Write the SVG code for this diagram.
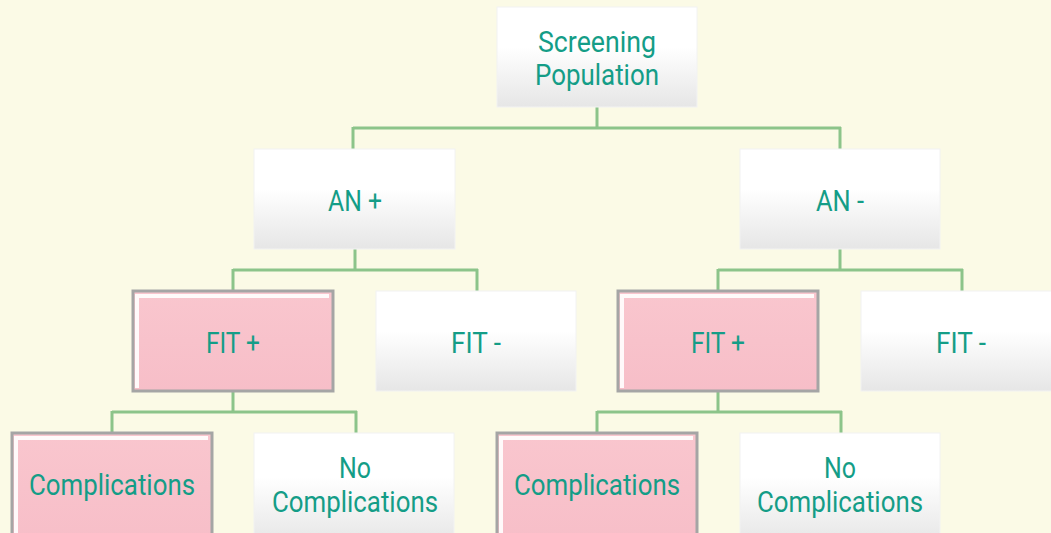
<svg xmlns="http://www.w3.org/2000/svg" width="1051" height="533" viewBox="0 0 1051 533">
<defs>
<linearGradient id="wg" x1="0" y1="0" x2="0" y2="1">
<stop offset="0" stop-color="#ffffff"/>
<stop offset="0.4" stop-color="#ffffff"/>
<stop offset="1" stop-color="#e6e6e6"/>
</linearGradient>
<linearGradient id="pg" x1="0" y1="0" x2="0" y2="1">
<stop offset="0" stop-color="#f9c6ce"/>
<stop offset="1" stop-color="#f7bec8"/>
</linearGradient>
<style>
.w{fill:url(#wg);stroke:#f2f2f2;stroke-width:1}
.p{fill:url(#pg);stroke:#a5a5a5;stroke-width:3}
.hl{fill:none;stroke:#ffffff;stroke-width:4;stroke-opacity:0.9}
.t{font-family:Roboto,"Noto Sans",sans-serif;font-size:30px;font-weight:400;fill:#149d87;text-anchor:middle}
.c{fill:none;stroke:#8cc48a;stroke-width:3}
</style>
</defs>
<rect width="1051" height="533" fill="#fbfae6"/>
<g id="connectors">
<path class="c" d="M597 107V128M353 128H841M353 127V149M840 127V149"/>
<path class="c" d="M355 249V270M233 270H478M233 269V291M477 269V291"/>
<path class="c" d="M840 249V270M718 270H963M718 269V291M962 269V291"/>
<path class="c" d="M233 392V412M112 412H357M112 411V433M356 411V433"/>
<path class="c" d="M718 392V412M597 412H842M597 411V433M841 411V433"/>
</g>
<g id="n-screening"><rect class="w" x="497" y="7" width="200" height="100"/><text class="t" x="597" y="52" textLength="118" lengthAdjust="spacingAndGlyphs">Screening</text><text class="t" x="597" y="85" textLength="124" lengthAdjust="spacingAndGlyphs">Population</text></g>
<g id="n-anplus"><rect class="w" x="254" y="149" width="201" height="100"/><text class="t" x="355" y="211" textLength="54" lengthAdjust="spacingAndGlyphs">AN +</text></g>
<g id="n-anminus"><rect class="w" x="740" y="149" width="200" height="100"/><text class="t" x="840" y="211" textLength="48" lengthAdjust="spacingAndGlyphs">AN -</text></g>
<g id="n-fitplus-l"><rect class="p" x="133" y="291" width="200" height="100"/><path class="hl" d="M137 388V296H329"/><text class="t" x="233" y="353" textLength="54" lengthAdjust="spacingAndGlyphs">FIT +</text></g>
<g id="n-fitminus-l"><rect class="w" x="376" y="291" width="200" height="100"/><text class="t" x="476" y="353" textLength="50" lengthAdjust="spacingAndGlyphs">FIT -</text></g>
<g id="n-fitplus-r"><rect class="p" x="618" y="291" width="200" height="100"/><path class="hl" d="M622 388V296H814"/><text class="t" x="718" y="353" textLength="54" lengthAdjust="spacingAndGlyphs">FIT +</text></g>
<g id="n-fitminus-r"><rect class="w" x="861" y="291" width="200" height="100"/><text class="t" x="961" y="353" textLength="50" lengthAdjust="spacingAndGlyphs">FIT -</text></g>
<g id="n-comp-l"><rect class="p" x="12" y="433" width="200" height="110"/><path class="hl" d="M16 540V438H208"/><text class="t" x="112" y="495" textLength="166" lengthAdjust="spacingAndGlyphs">Complications</text></g>
<g id="n-nocomp-l"><rect class="w" x="254" y="433" width="200" height="110"/><text class="t" x="355" y="478" textLength="32" lengthAdjust="spacingAndGlyphs">No</text><text class="t" x="355" y="512" textLength="166" lengthAdjust="spacingAndGlyphs">Complications</text></g>
<g id="n-comp-r"><rect class="p" x="497" y="433" width="200" height="110"/><path class="hl" d="M501 540V438H693"/><text class="t" x="597" y="495" textLength="166" lengthAdjust="spacingAndGlyphs">Complications</text></g>
<g id="n-nocomp-r"><rect class="w" x="740" y="433" width="200" height="110"/><text class="t" x="840" y="478" textLength="32" lengthAdjust="spacingAndGlyphs">No</text><text class="t" x="840" y="512" textLength="166" lengthAdjust="spacingAndGlyphs">Complications</text></g>
</svg>
